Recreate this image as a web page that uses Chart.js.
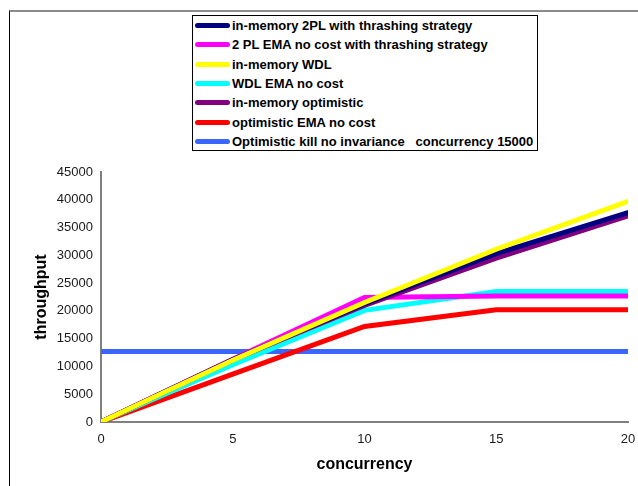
<!DOCTYPE html>
<html>
<head>
<meta charset="utf-8">
<script src="https://cdn.jsdelivr.net/npm/chart.js@4.4.1/dist/chart.umd.min.js"></script>
<style>
  html, body { margin: 0; padding: 0; background: #fff; }
  #wrap { position: relative; width: 638px; height: 486px; }
  #frame { position: absolute; left: 9px; top: 10px; right: 0; bottom: 0;
           border-top: 2px solid #8c8c8c; border-left: 1px solid #000; }
  #legend { position: absolute; left: 192px; top: 15px; width: 346px; height: 136px;
            border: 1px solid #000; background: #fff; padding: 0 0 0 2px; box-sizing: border-box;
            font: bold 13px "Liberation Sans", Arial, sans-serif; color: #000; }
  .row { height: 19.33px; display: flex; align-items: center; white-space: nowrap; }
  .swatch { width: 35px; height: 5px; border-radius: 3px; margin-right: 2px; }
</style>
</head>
<body>
<div id="wrap">
  <canvas id="chart" width="638" height="486"></canvas>
  <div id="frame"></div>
  <div id="legend"></div>
</div>
<script>
const concurrency = [0, 5, 10, 15, 20];

const seriesNames = [
    'in-memory 2PL with thrashing strategy',
    '2 PL EMA no cost with thrashing strategy',
    'in-memory WDL',
    'WDL EMA no cost',
    'in-memory optimistic',
    'optimistic EMA no cost',
    'Optimistic kill no invariance   concurrency 15000'
];

const inMemory2PL = [0, 11200, 21300, 30300, 37700];
const ema2PL = [0, 11300, 22400, 22700, 22700];
const inMemoryWDL = [0, 11100, 21500, 31100, 39700];
const emaWDL = [0, 10300, 20100, 23500, 23500];
const inMemoryOptimistic = [0, 11200, 21000, 29500, 37100];
const emaOptimistic = [0, 8600, 17200, 20200, 20200];
const optimisticKill = [12700, 12700, 12700, 12700, 12700];

const yTicks = [0, 5000, 10000, 15000, 20000, 25000, 30000, 35000, 40000, 45000];
const xTicks = [0, 5, 10, 15, 20];

const colors = ['#000080', '#ff00ff', '#ffff00', '#00ffff', '#800080', '#ff0000', '#3a66ff'];
const allValues = [inMemory2PL, ema2PL, inMemoryWDL, emaWDL, inMemoryOptimistic, emaOptimistic, optimisticKill];

// draw order: later ones on top
const drawOrder = [6, 5, 3, 1, 4, 0, 2];

const datasets = allValues.map((vals, i) => ({
    label: seriesNames[i],
    data: vals.map((v, k) => ({ x: concurrency[k], y: v })),
    borderColor: colors[i],
    backgroundColor: colors[i],
    borderWidth: 5,
    pointRadius: 0,
    tension: 0,
    borderCapStyle: 'round',
    order: 10 - drawOrder.indexOf(i)
}));

const tickFont = { family: '"Liberation Sans", Arial, sans-serif', size: 13 };
const titleFont = { family: '"Liberation Sans", Arial, sans-serif', size: 16, weight: 'bold' };

new Chart(document.getElementById('chart'), {
    type: 'line',
    data: { datasets: datasets },
    options: {
        responsive: false,
        animation: false,
        layout: { padding: { top: 172, right: 10, left: 0, bottom: 0 } },
        plugins: { legend: { display: false }, tooltip: { enabled: false } },
        scales: {
            x: {
                type: 'linear',
                min: 0, max: 20,
                afterBuildTicks: s => { s.ticks = xTicks.map(v => ({ value: v })); },
                afterFit: s => { s.height = 64; s.paddingRight = 0; s.paddingLeft = 0; },
                grid: { display: false, drawOnChartArea: false, tickLength: 5, tickColor: '#808080' },
                border: { color: '#808080', width: 2 },
                ticks: { color: '#1a1a1a', font: tickFont, padding: 5, callback: v => String(v) },
                title: { display: true, text: 'concurrency', color: '#000', font: titleFont, padding: { top: 0, bottom: 12 } }
            },
            y: {
                min: 0, max: 45000,
                afterBuildTicks: s => { s.ticks = yTicks.map(v => ({ value: v })); },
                afterFit: s => { s.width = 101; },
                grid: { display: false, drawOnChartArea: false, tickLength: 5, tickColor: '#808080' },
                border: { color: '#808080', width: 2 },
                ticks: { color: '#1a1a1a', font: tickFont, padding: 3, callback: v => String(v) },
                title: { display: true, text: 'throughput', color: '#000', font: titleFont, padding: { top: 32, bottom: 0 } }
            }
        }
    }
});

// html legend from the same series arrays
const legend = document.getElementById('legend');
seriesNames.forEach((name, i) => {
    const row = document.createElement('div');
    row.className = 'row';
    const sw = document.createElement('div');
    sw.className = 'swatch';
    sw.style.background = colors[i];
    const txt = document.createElement('span');
    txt.textContent = name;
    txt.style.whiteSpace = 'pre';
    row.appendChild(sw);
    row.appendChild(txt);
    legend.appendChild(row);
});
</script>
</body>
</html>
